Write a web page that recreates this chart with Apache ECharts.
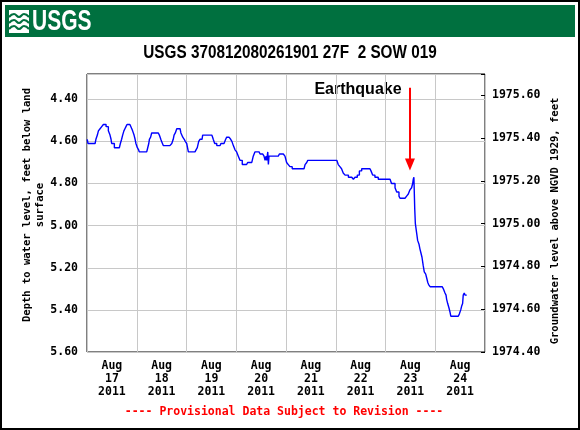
<!DOCTYPE html>
<html>
<head>
<meta charset="utf-8">
<script src="https://cdn.jsdelivr.net/npm/echarts@6/dist/echarts.min.js"></script>
<style>
  html, body { margin: 0; padding: 0; background: #fff; }
  #main { width: 580px; height: 430px; }
</style>
</head>
<body>
<div id="main"></div>
<script>
// hours since 2011-08-17 00:00
const hours = [
  0.1, 0.5, 3.9, 4.3, 5.0, 5.5, 6.3, 7.1, 7.9, 8.7, 9.2, 9.8, 10.3, 11.1, 11.6, 11.9, 12.7, 13.2, 15.6, 16.1,
  16.7, 17.2, 17.8, 18.3, 18.8, 19.3, 20.7, 21.6, 22.0, 22.7, 23.2, 23.6, 24.3, 24.9, 25.2, 28.8, 29.3, 29.8, 30.1, 30.7,
  31.2, 34.4, 34.9, 35.6, 36.0, 36.8, 40.0, 40.9, 41.6, 42.0, 42.6, 43.3, 44.9, 45.3, 46.2, 46.9, 47.4, 48.1, 48.9, 52.1,
  52.6, 53.2, 53.9, 54.5, 55.5, 55.8, 60.2, 60.6, 60.9, 61.6, 62.6, 64.2, 64.6, 66.1, 66.9, 67.4, 68.5, 69.3, 69.9, 70.6,
  71.4, 72.2, 73.0, 73.8, 74.9, 77.0, 77.5, 79.5, 80.2, 81.0, 83.0, 83.5, 84.8, 85.4, 85.9, 86.4, 86.7, 87.2, 87.5, 87.8,
  88.3, 92.3, 92.8, 94.7, 95.5, 96.3, 97.1, 97.9, 99.0, 104.7, 105.2, 106.0, 106.5, 120.5, 121.2, 122.0, 122.8, 123.6, 124.5, 126.1,
  127.7, 128.5, 129.3, 130.4, 131.4, 132.5, 133.3, 136.5, 137.0, 137.8, 138.9, 139.8, 140.5, 146.2, 146.9, 148.6, 149.4, 150.5, 151.0, 153.4,
  154.2, 155.0, 155.8, 156.6, 157.1, 157.4, 157.7, 158.1, 158.4, 159.1, 159.5, 160.2, 160.6, 161.1, 161.6, 162.2, 162.7, 163.4, 163.9, 164.4,
  164.8, 165.5, 171.4, 171.9, 172.7, 173.2, 173.5, 174.0, 174.6, 175.1, 175.5, 179.1, 179.6, 180.3, 180.8, 181.2, 181.5, 182.0, 182.4, 183.2
]
// depth to water level, feet below land surface
const depth = [
  4.59, 4.61, 4.61, 4.59, 4.57, 4.55, 4.54, 4.53, 4.52, 4.52, 4.53, 4.53, 4.55, 4.57, 4.59, 4.61, 4.61, 4.63, 4.63, 4.61,
  4.59, 4.57, 4.55, 4.54, 4.53, 4.52, 4.52, 4.54, 4.55, 4.57, 4.59, 4.61, 4.63, 4.64, 4.65, 4.65, 4.63, 4.61, 4.59, 4.58,
  4.56, 4.56, 4.57, 4.59, 4.60, 4.62, 4.62, 4.61, 4.59, 4.57, 4.56, 4.54, 4.54, 4.56, 4.58, 4.59, 4.60, 4.61, 4.65, 4.65,
  4.64, 4.63, 4.60, 4.59, 4.59, 4.57, 4.57, 4.58, 4.59, 4.61, 4.62, 4.62, 4.61, 4.61, 4.59, 4.58, 4.58, 4.59, 4.60, 4.62,
  4.64, 4.65, 4.67, 4.69, 4.71, 4.71, 4.70, 4.70, 4.67, 4.65, 4.65, 4.66, 4.66, 4.67, 4.69, 4.67, 4.69, 4.65, 4.71, 4.67,
  4.67, 4.67, 4.66, 4.66, 4.67, 4.70, 4.71, 4.72, 4.73, 4.73, 4.71, 4.70, 4.69, 4.69, 4.71, 4.72, 4.73, 4.75, 4.76, 4.77,
  4.77, 4.78, 4.77, 4.76, 4.74, 4.73, 4.73, 4.73, 4.74, 4.76, 4.77, 4.77, 4.78, 4.78, 4.80, 4.82, 4.84, 4.86, 4.87, 4.87,
  4.86, 4.85, 4.83, 4.82, 4.80, 4.78, 4.77, 4.92, 4.99, 5.04, 5.07, 5.09, 5.11, 5.13, 5.15, 5.19, 5.22, 5.23, 5.25, 5.27,
  5.28, 5.29, 5.29, 5.30, 5.32, 5.33, 5.35, 5.37, 5.39, 5.41, 5.43, 5.43, 5.42, 5.40, 5.38, 5.37, 5.33, 5.32, 5.33, 5.33
]

const days = ['17', '18', '19', '20', '21', '22', '23', '24']
const dayLabels = days.map(d => 'Aug\n' + d + '\n2011')

// earthquake arrow (hour, depth from -> to)
const quakeHour = 155.8
const arrowFrom = 4.345
const arrowTo = 4.71

const mono = "'DejaVu Sans Mono', monospace"
const sans = "'Liberation Sans', Arial, sans-serif"

const myChart = echarts.init(document.querySelector('#main'))

const labelStyle = {
  color: '#000',
  fontFamily: mono,
  fontWeight: 'bold',
  fontSize: 11.5
}

// only show labels on multiples of 0.2
function tickFmt (v) {
  return Math.abs(v * 5 - Math.round(v * 5)) < 1e-6 ? v.toFixed(2) : ''
}

const option = {
  animation: false,
  backgroundColor: '#fff',
  grid: {
    left: 87,
    right: 95,
    top: 74,
    bottom: 78,
    show: true,
    borderColor: '#000',
    borderWidth: 1
  },
  xAxis: [
    {
      type: 'value',
      min: 0,
      max: 192,
      interval: 24,
      axisLine: { show: false },
      axisTick: { show: false },
      axisLabel: { show: false },
      splitLine: { lineStyle: { color: '#c8c8c8', width: 1 } }
    },
    {
      type: 'category',
      position: 'bottom',
      data: dayLabels,
      boundaryGap: true,
      axisLine: { show: false },
      axisTick: { show: false },
      splitLine: { show: false },
      axisLabel: Object.assign({ interval: 0, margin: 8, lineHeight: 13 }, labelStyle)
    }
  ],
  yAxis: [
    {
      type: 'value',
      inverse: true,
      min: 4.28,
      max: 5.6,
      splitNumber: 6,
      axisLine: { show: false },
      axisTick: { show: false },
      axisLabel: Object.assign({ margin: 9, formatter: tickFmt }, labelStyle),
      splitLine: { lineStyle: { color: '#c8c8c8', width: 1 } }
    },
    {
      type: 'value',
      position: 'right',
      min: 1974.4,
      max: 1975.7,
      splitNumber: 6,
      axisLine: { show: false },
      axisTick: { show: true, inside: true, length: 4, lineStyle: { color: '#000' } },
      axisLabel: Object.assign({ margin: 7, formatter: tickFmt }, labelStyle),
      splitLine: { show: false }
    }
  ],
  series: [
    {
      type: 'line',
      xAxisIndex: 0,
      yAxisIndex: 0,
      data: hours.map((h, i) => [h, depth[i]]),
      step: 'end',
      showSymbol: false,
      lineStyle: { color: '#0000ff', width: 1.4 },
      markLine: {
        silent: true,
        symbol: ['none', 'triangle'],
        symbolSize: [10, 12],
        lineStyle: { color: '#ff0000', width: 2, type: 'solid' },
        label: { show: false },
        data: [
          [{ coord: [quakeHour, arrowFrom] }, { coord: [quakeHour, arrowTo] }]
        ]
      }
    }
  ],
  graphic: [
    // outer frame
    {
      type: 'rect',
      shape: { x: 1, y: 1, width: 578, height: 428 },
      style: { fill: 'none', stroke: '#000', lineWidth: 2 }
    },
    // green header bar
    {
      type: 'rect',
      shape: { x: 5, y: 5, width: 570, height: 32 },
      style: { fill: '#00703f' }
    },
    // logo icon
    {
      type: 'rect',
      shape: { x: 9, y: 10, width: 20, height: 23 },
      style: { fill: '#fff' }
    },
    {
      type: 'polyline',
      shape: { points: [[9, 17], [14, 14], [19, 17], [24, 14], [29, 17]], smooth: 0.5 },
      style: { stroke: '#00703f', lineWidth: 2, fill: 'none' }
    },
    {
      type: 'polyline',
      shape: { points: [[9, 23], [14, 20], [19, 23], [24, 20], [29, 23]], smooth: 0.5 },
      style: { stroke: '#00703f', lineWidth: 2, fill: 'none' }
    },
    {
      type: 'polyline',
      shape: { points: [[9, 29], [14, 26], [19, 29], [24, 26], [29, 29]], smooth: 0.5 },
      style: { stroke: '#00703f', lineWidth: 2, fill: 'none' }
    },
    {
      type: 'text',
      x: 32,
      y: 22,
      scaleX: 0.7,
      style: {
        text: 'USGS',
        font: 'bold 30px ' + sans,
        fill: '#fff',
        textAlign: 'left',
        textVerticalAlign: 'middle'
      }
    },
    // title
    {
      type: 'text',
      x: 290,
      y: 53,
      scaleX: 0.85,
      style: {
        text: 'USGS 370812080261901 27F  2 SOW 019',
        font: 'bold 18px ' + sans,
        fill: '#000',
        textAlign: 'center',
        textVerticalAlign: 'middle'
      }
    },
    // axis names
    {
      type: 'text',
      x: 34,
      y: 205,
      rotation: Math.PI / 2,
      style: {
        text: 'Depth to water level, feet below land\nsurface',
        font: 'bold 10.5px ' + mono,
        lineHeight: 12.5,
        fill: '#000',
        textAlign: 'center',
        textVerticalAlign: 'middle'
      }
    },
    {
      type: 'text',
      x: 555,
      y: 221,
      rotation: Math.PI / 2,
      style: {
        text: 'Groundwater level above NGVD 1929, feet',
        font: 'bold 10.5px ' + mono,
        fill: '#000',
        textAlign: 'center',
        textVerticalAlign: 'middle'
      }
    },
    // annotation
    {
      type: 'text',
      x: 358,
      y: 90,
      style: {
        text: 'Earthquake',
        font: 'bold 16px ' + sans,
        fill: '#000',
        textAlign: 'center',
        textVerticalAlign: 'middle'
      }
    },
    {
      type: 'text',
      x: 284,
      y: 412,
      style: {
        text: '---- Provisional Data Subject to Revision ----',
        font: 'bold 11.5px ' + mono,
        fill: '#ff0000',
        textAlign: 'center',
        textVerticalAlign: 'middle'
      }
    }
  ]
}

myChart.setOption(option)
</script>
</body>
</html>
